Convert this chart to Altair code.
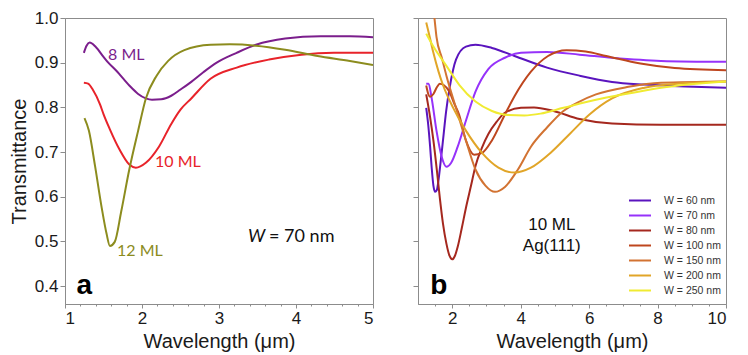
import altair as alt
import pandas as pd

# ---------------- Panel a : W = 70 nm, different thicknesses ----------------
A_SERIES = ["8 ML", "10 ML", "12 ML"]
A_COLORS = ["#7B1E8C", "#E8232A", "#8C8C1E"]

a8_x = [1.245, 1.28, 1.32, 1.40, 1.50, 1.562, 1.667, 1.835, 1.95, 2.05, 2.13, 2.25, 2.38, 2.50, 2.64, 2.80, 2.97, 3.23, 3.48, 3.86, 4.32, 4.70, 5.0]
a8_y = [0.922, 0.938, 0.945, 0.935, 0.913, 0.900, 0.882, 0.849, 0.830, 0.820, 0.817, 0.818, 0.826, 0.840, 0.857, 0.879, 0.900, 0.922, 0.940, 0.954, 0.959, 0.959, 0.957]

a10_x = [1.245, 1.30, 1.36, 1.456, 1.50, 1.58, 1.71, 1.835, 1.92, 2.05, 2.22, 2.38, 2.50, 2.64, 2.89, 3.23, 3.65, 4.07, 4.49, 5.0]
a10_y = [0.855, 0.853, 0.840, 0.806, 0.785, 0.752, 0.705, 0.672, 0.665, 0.676, 0.712, 0.763, 0.795, 0.820, 0.864, 0.889, 0.907, 0.918, 0.922, 0.922]

a12_x = [1.253, 1.31, 1.39, 1.477, 1.54, 1.583, 1.646, 1.73, 1.835, 1.95, 2.05, 2.19, 2.34, 2.55, 2.89, 3.14, 3.48, 3.86, 4.28, 4.70, 5.0]
a12_y = [0.776, 0.748, 0.669, 0.575, 0.517, 0.490, 0.499, 0.567, 0.661, 0.748, 0.820, 0.871, 0.904, 0.928, 0.940, 0.941, 0.938, 0.929, 0.915, 0.904, 0.895]

a_label_text = ["8 ML", "10 ML", "12 ML"]
a_label_x = [1.56, 2.17, 1.675]
a_label_y = [0.907, 0.666, 0.467]

# ---------------- Panel b : 10 ML Ag(111), different widths ----------------
B_SERIES = ["W = 60 nm", "W = 70 nm", "W = 80 nm", "W = 100 nm", "W = 150 nm", "W = 200 nm", "W = 250 nm"]
B_COLORS = ["#5A14BE", "#9632FA", "#A5281E", "#BE461E", "#D27332", "#E1A528", "#F0EB32"]

b60_x = [1.24, 1.30, 1.354, 1.40, 1.45, 1.50, 1.55, 1.59, 1.65, 1.73, 1.82, 1.92, 2.11, 2.40, 2.68, 3.16, 3.82, 4.77, 5.72, 6.67, 7.62, 9.05, 10.0]
b60_y = [0.799, 0.760, 0.712, 0.665, 0.625, 0.611, 0.615, 0.632, 0.670, 0.726, 0.790, 0.842, 0.907, 0.936, 0.940, 0.933, 0.915, 0.889, 0.871, 0.857, 0.851, 0.846, 0.844]

b70_x = [1.24, 1.31, 1.40, 1.54, 1.69, 1.83, 1.97, 2.16, 2.40, 2.68, 3.06, 3.54, 4.01, 4.77, 5.72, 6.67, 8.10, 10.0]
b70_y = [0.853, 0.853, 0.820, 0.748, 0.690, 0.667, 0.676, 0.712, 0.770, 0.835, 0.886, 0.911, 0.922, 0.924, 0.918, 0.911, 0.904, 0.902]

b80_x = [1.24, 1.35, 1.45, 1.55, 1.64, 1.73, 1.83, 1.92, 2.0, 2.08, 2.16, 2.28, 2.40, 2.55, 2.68, 2.87, 3.06, 3.30, 3.54, 4.01, 4.39, 4.96, 5.72, 6.67, 8.10, 10.0]
b80_y = [0.829, 0.780, 0.726, 0.660, 0.596, 0.540, 0.495, 0.468, 0.460, 0.468, 0.488, 0.530, 0.575, 0.625, 0.669, 0.710, 0.741, 0.768, 0.788, 0.799, 0.800, 0.792, 0.774, 0.764, 0.761, 0.761]

b100_x = [1.24, 1.30, 1.35, 1.45, 1.55, 1.64, 1.75, 1.92, 2.05, 2.20, 2.40, 2.64, 2.87, 3.16, 3.54, 3.82, 4.30, 4.80, 5.34, 5.90, 6.50, 7.50, 8.50, 10.0]
b100_y = [0.849, 0.830, 0.824, 0.830, 0.845, 0.853, 0.850, 0.835, 0.810, 0.784, 0.726, 0.694, 0.698, 0.726, 0.784, 0.825, 0.880, 0.915, 0.928, 0.925, 0.915, 0.898, 0.888, 0.883]

b150_x = [1.30, 1.48, 1.54, 1.70, 1.83, 2.11, 2.40, 2.68, 2.97, 3.25, 3.54, 3.92, 4.30, 4.77, 5.25, 5.72, 6.20, 7.15, 8.10, 10.0]
b150_y = [1.090, 1.000, 0.958, 0.910, 0.871, 0.799, 0.726, 0.661, 0.625, 0.611, 0.622, 0.661, 0.712, 0.755, 0.792, 0.813, 0.829, 0.846, 0.855, 0.858]

b200_x = [1.24, 1.35, 1.45, 1.60, 1.73, 2.02, 2.40, 2.87, 3.35, 3.82, 4.30, 4.87, 5.44, 6.01, 6.67, 7.62, 8.57, 10.0]
b200_y = [0.990, 0.955, 0.922, 0.880, 0.850, 0.800, 0.748, 0.698, 0.665, 0.654, 0.665, 0.698, 0.741, 0.784, 0.820, 0.844, 0.853, 0.858]

b250_x = [1.24, 1.45, 1.83, 2.21, 2.68, 3.16, 3.63, 4.11, 4.58, 5.25, 6.20, 7.15, 8.10, 10.0]
b250_y = [0.965, 0.936, 0.893, 0.850, 0.813, 0.792, 0.783, 0.782, 0.786, 0.799, 0.817, 0.831, 0.844, 0.858]

# ---------------- Axis ticks ----------------
YTICKS = [0.4, 0.5, 0.6, 0.7, 0.8, 0.9, 1.0]
XMAJOR_A = [1, 2, 3, 4, 5]
XMINOR_A = [1.2, 1.4, 1.6, 1.8, 2.2, 2.4, 2.6, 2.8, 3.2, 3.4, 3.6, 3.8, 4.2, 4.4, 4.6, 4.8]
XMAJOR_B = [2, 4, 6, 8, 10]
XMINOR_B = [1.5, 2.5, 3, 3.5, 4.5, 5, 5.5, 6.5, 7, 7.5, 8.5, 9, 9.5]

YDOM = [0.36, 1.0]
PW, PH = 308, 286
FONT = "Liberation Sans"
LFONT = "Lato"


def long_df(names, xs_list, ys_list, field):
    rows = []
    for n, xs, ys in zip(names, xs_list, ys_list):
        for i, (x, y) in enumerate(zip(xs, ys)):
            rows.append({field: n, "x": x, "y": y, "order": i})
    return pd.DataFrame(rows)


df_a = long_df(A_SERIES, [a8_x, a10_x, a12_x], [a8_y, a10_y, a12_y], "sa")
df_b = long_df(B_SERIES, [b60_x, b70_x, b80_x, b100_x, b150_x, b200_x, b250_x],
               [b60_y, b70_y, b80_y, b100_y, b150_y, b200_y, b250_y], "sb")

sx_a = alt.Scale(domain=[1, 5], nice=False, zero=False)
sx_b = alt.Scale(domain=[1, 10], nice=False, zero=False)
sy = alt.Scale(domain=YDOM, nice=False, zero=False)


def major_x(vals):
    return alt.Axis(values=vals, title="Wavelength (μm)", format="d", tickSize=4,
                    labelOverlap=False, labelPadding=2, titlePadding=5, orient="bottom")


def minor_x(vals):
    return alt.Axis(values=vals, labels=False, domain=False, tickSize=2, title=None, orient="bottom")


def ya():
    return alt.Y("y:Q", scale=sy, axis=alt.Axis(values=YTICKS, format=".1f", title="Transmittance", tickSize=5,
                                                labelPadding=2, titlePadding=5, labelOverlap=False))


def yb():
    return alt.Y("y:Q", scale=sy, axis=alt.Axis(values=YTICKS, labels=False, title=None, tickSize=5))


col_a = alt.Color("sa:N", scale=alt.Scale(domain=A_SERIES, range=A_COLORS), legend=None)
col_b = alt.Color("sb:N", scale=alt.Scale(domain=B_SERIES, range=B_COLORS),
                  legend=alt.Legend(title=None, orient="none", legendX=PW - 98, legendY=int(PH * 0.615),
                                    symbolType="stroke", symbolSize=484, symbolStrokeWidth=2,
                                    labelFont=FONT, labelFontSize=10.5, labelColor="#333333",
                                    labelOffset=12, clipHeight=15, rowPadding=0, padding=0))

# ---- panel a layers
lines_a = alt.Chart(df_a).mark_line(strokeWidth=2, interpolate="monotone", clip=True).encode(
    x=alt.X("x:Q", scale=sx_a, axis=major_x(XMAJOR_A)), y=ya(), color=col_a, order="order:Q")

lab_a = pd.DataFrame({"x": a_label_x, "y": a_label_y, "t": a_label_text, "sa": A_SERIES})
text_a = alt.Chart(lab_a).mark_text(align="left", baseline="alphabetic", font=LFONT, fontSize=16).encode(
    x=alt.X("x:Q", scale=sx_a, axis=None), y=ya(), text="t:N", color=col_a)

w_df = pd.DataFrame({"x": [3.376], "y": [0.498], "t": ["W"]})
w_text = alt.Chart(w_df).mark_text(align="left", baseline="alphabetic", font=LFONT, fontSize=18,
                                   fontStyle="italic", color="#111111").encode(
    x=alt.X("x:Q", scale=sx_a, axis=None), y=ya(), text="t:N")
w2_df = pd.DataFrame({"x": [3.65], "y": [0.498], "t": ["= 70 nm"]})
w2_text = alt.Chart(w2_df).mark_text(align="left", baseline="alphabetic", font=LFONT, fontSize=18,
                                     color="#111111").encode(
    x=alt.X("x:Q", scale=sx_a, axis=None), y=ya(), text="t:N")
pa_df = pd.DataFrame({"x": [1.15], "y": [0.382], "t": ["a"]})
pa_text = alt.Chart(pa_df).mark_text(align="left", baseline="alphabetic", font=FONT, fontSize=28,
                                     fontWeight="bold", color="#000000").encode(
    x=alt.X("x:Q", scale=sx_a, axis=minor_x(XMINOR_A)), y=ya(), text="t:N")

panel_a = alt.layer(lines_a, text_a, w_text, w2_text, pa_text).resolve_axis(x="independent").properties(
    width=PW, height=PH)

# ---- panel b layers
lines_b = alt.Chart(df_b).mark_line(strokeWidth=2, interpolate="monotone", clip=True).encode(
    x=alt.X("x:Q", scale=sx_b, axis=major_x(XMAJOR_B)), y=yb(), color=col_b, order="order:Q")

nb_df = pd.DataFrame({"x": [4.91, 4.91], "y": [0.526, 0.478], "t": ["10 ML", "Ag(111)"]})
nb_text = alt.Chart(nb_df).mark_text(align="center", baseline="alphabetic", font=FONT, fontSize=17,
                                     color="#111111").encode(
    x=alt.X("x:Q", scale=sx_b, axis=None), y=yb(), text="t:N")
pb_df = pd.DataFrame({"x": [1.36], "y": [0.382], "t": ["b"]})
pb_text = alt.Chart(pb_df).mark_text(align="left", baseline="alphabetic", font=FONT, fontSize=28,
                                     fontWeight="bold", color="#000000").encode(
    x=alt.X("x:Q", scale=sx_b, axis=minor_x(XMINOR_B)), y=yb(), text="t:N")

panel_b = alt.layer(lines_b, nb_text, pb_text).resolve_axis(x="independent").properties(width=PW, height=PH)

chart = alt.hconcat(panel_a, panel_b, spacing=38).resolve_scale(color="independent").configure_view(
    stroke="#8c8c8c", strokeWidth=1
).configure_axis(
    domainColor="#8c8c8c", tickColor="#8c8c8c", domainWidth=1, tickWidth=1, grid=False,
    labelFont=FONT, labelFontSize=17, labelColor="#1a1a1a",
    titleFont=FONT, titleFontSize=20, titleFontWeight="normal", titleColor="#1a1a1a"
).properties(padding={"left": 0, "right": 0, "top": 0, "bottom": 0})

chart.save("out.html", embed_options={"renderer": "svg", "actions": False})
